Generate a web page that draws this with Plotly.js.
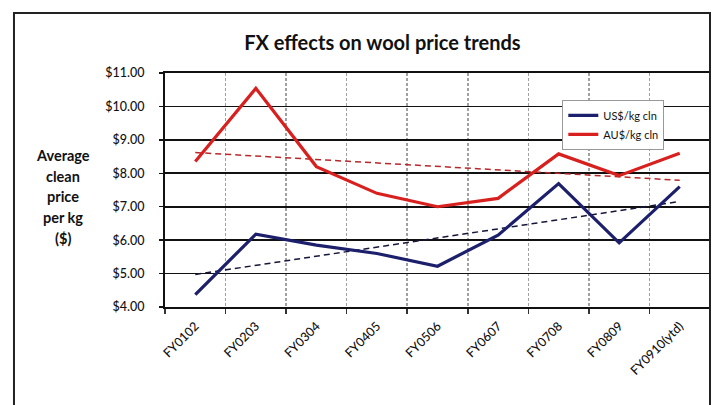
<!DOCTYPE html>
<html>
<head>
<meta charset="utf-8">
<script src="https://cdn.plot.ly/plotly-3.0.1.min.js"></script>
<style>
  html, body { margin: 0; padding: 0; background: #fff; }
  #chart { width: 716px; height: 405px; }
</style>
</head>
<body>
<div id="chart"></div>
<script>
// Financial years (categories)
const years = ["FY0102", "FY0203", "FY0304", "FY0405", "FY0506", "FY0607", "FY0708", "FY0809", "FY0910(ytd)"];

// Average clean price per kg, $
const usdPrice = [4.37, 6.18, 5.85, 5.60, 5.22, 6.15, 7.69, 5.92, 7.60];
const audPrice = [8.35, 10.54, 8.20, 7.40, 7.00, 7.25, 8.58, 7.93, 8.60];

// Y axis ticks
const yTicks = [4, 5, 6, 7, 8, 9, 10, 11];
const yTickText = ["$4.00", "$5.00", "$6.00", "$7.00", "$8.00", "$9.00", "$10.00", "$11.00"];

// Y axis title, one line per entry
const yTitleLines = ["Average", "clean", "price", "per kg", "($)"];

// Least-squares linear trend over the category index
function linearTrend(values) {
  const n = values.length;
  const xs = values.map((_, i) => i);
  const mx = xs.reduce((a, b) => a + b, 0) / n;
  const my = values.reduce((a, b) => a + b, 0) / n;
  let sxy = 0, sxx = 0;
  xs.forEach((x, i) => { sxy += (x - mx) * (values[i] - my); sxx += (x - mx) * (x - mx); });
  const slope = sxy / sxx;
  return xs.map(x => my + slope * (x - mx));
}

const font = "Lato, 'Open Sans', sans-serif";

const traces = [
  {
    x: years, y: linearTrend(audPrice), type: "scatter", mode: "lines",
    line: { color: "#b8282a", width: 1.5, dash: "6px,4px" },
    showlegend: false, hoverinfo: "skip"
  },
  {
    x: years, y: linearTrend(usdPrice), type: "scatter", mode: "lines",
    line: { color: "#15173a", width: 1.5, dash: "6px,4px" },
    showlegend: false, hoverinfo: "skip"
  },
  {
    x: years, y: usdPrice, type: "scatter", mode: "lines", name: "US$/kg cln",
    line: { color: "#1c1f6b", width: 3.2 }
  },
  {
    x: years, y: audPrice, type: "scatter", mode: "lines", name: "AU$/kg cln",
    line: { color: "#d8211f", width: 3.2 }
  }
];

// Axis title stacked line by line to the left of the plot
const titleAnnotations = yTitleLines.map((t, i) => ({
  xref: "paper", yref: "paper",
  x: -0.187, y: 0.648 - i * 0.0885,
  xanchor: "center", yanchor: "middle", showarrow: false,
  text: "<b>" + t + "</b>",
  font: { family: font, size: 14.5, color: "#111" }
}));

const layout = {
  width: 716, height: 405,
  margin: { l: 165, r: 6, t: 73, b: 97.5 },
  paper_bgcolor: "#ffffff", plot_bgcolor: "#ffffff",
  font: { family: font, color: "#111", size: 11 },
  title: {
    text: "<b>FX effects on wool price trends</b>",
    font: { family: font, size: 20, color: "#111" },
    x: 0.534, xanchor: "center", xref: "container",
    y: 0.893, yanchor: "middle", yref: "container"
  },
  xaxis: {
    type: "category",
    range: [-0.5, 8.5],
    tickson: "boundaries",
    ticks: "outside", ticklen: 5, tickcolor: "#333", tickwidth: 1.5,
    tickangle: -45,
    ticklabelstandoff: 5,
    tickfont: { family: font, size: 12.5, color: "#111", weight: 500 },
    showgrid: true, gridcolor: "#a0a0a0", gridwidth: 1.5, griddash: "3px,2px",
    showline: true, linecolor: "#111", linewidth: 2, mirror: true,
    zeroline: false, fixedrange: true
  },
  yaxis: {
    range: [4, 11],
    tickvals: yTicks, ticktext: yTickText,
    ticks: "outside", ticklen: 4, tickcolor: "#111", tickwidth: 1.5,
    ticklabelstandoff: 12,
    tickfont: { family: font, size: 12.5, color: "#111", weight: 500 },
    showgrid: true, gridcolor: "#111", gridwidth: 1.8,
    showline: true, linecolor: "#111", linewidth: 2,
    zeroline: false, fixedrange: true
  },
  legend: {
    x: 0.729, y: 0.885, xanchor: "left", yanchor: "top",
    bgcolor: "#ffffff", bordercolor: "#999", borderwidth: 1,
    font: { family: font, size: 11, color: "#111" },
    itemwidth: 30, tracegroupgap: 2
  },
  annotations: titleAnnotations,
  shapes: [
    {
      type: "rect", xref: "paper", yref: "paper",
      x0: -0.2771, x1: 1.0, y0: -0.5, y1: 1.256,
      line: { color: "#222", width: 2 }, fillcolor: "rgba(0,0,0,0)", layer: "above"
    }
  ],
  showlegend: true
};

Plotly.newPlot("chart", traces, layout, { staticPlot: true, displayModeBar: false });
</script>
</body>
</html>
